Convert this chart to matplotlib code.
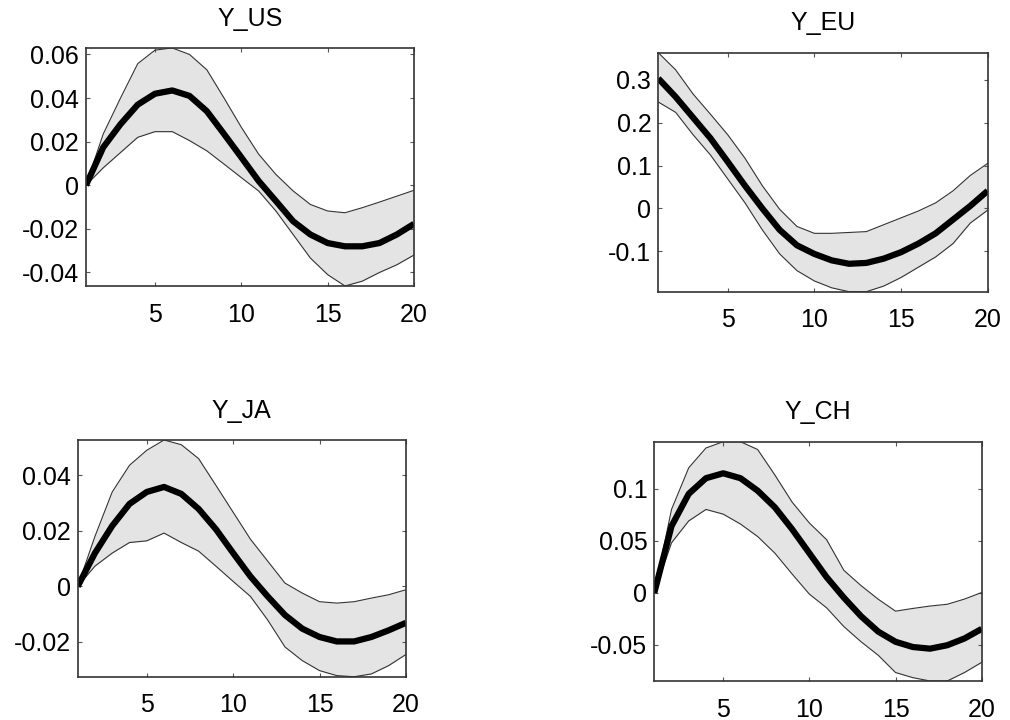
import matplotlib
matplotlib.use("Agg")
import matplotlib.pyplot as plt

plt.rcParams['font.family'] = ['Liberation Sans', 'DejaVu Sans']

periods = list(range(1, 21))

titles = ["Y_US", "Y_EU", "Y_JA", "Y_CH"]

# median responses and band edges
us_mid = [0.0, 0.0174, 0.028, 0.037, 0.042, 0.0435, 0.041, 0.034, 0.0235, 0.0128,
          0.002, -0.0072, -0.0165, -0.0226, -0.0265, -0.028, -0.028, -0.0265, -0.0226, -0.0177]
us_hi = [0.0, 0.0235, 0.040, 0.0558, 0.062, 0.063, 0.060, 0.053, 0.040, 0.0266,
         0.0143, 0.005, -0.0026, -0.0088, -0.0118, -0.0126, -0.0103, -0.0077, -0.005, -0.0023]
us_lo = [0.0, 0.008, 0.015, 0.022, 0.0246, 0.0246, 0.0205, 0.0158, 0.0097, 0.0035,
         -0.0026, -0.0118, -0.0226, -0.0334, -0.041, -0.0462, -0.044, -0.040, -0.0365, -0.032]

eu_mid = [0.303, 0.26, 0.212, 0.164, 0.109, 0.053, 0.0, -0.05, -0.086, -0.106,
          -0.121, -0.129, -0.127, -0.117, -0.102, -0.082, -0.058, -0.026, 0.006, 0.041]
eu_hi = [0.363, 0.323, 0.267, 0.22, 0.172, 0.117, 0.053, -0.002, -0.042, -0.058,
         -0.058, -0.056, -0.054, -0.038, -0.022, -0.006, 0.013, 0.041, 0.077, 0.105]
eu_lo = [0.248, 0.224, 0.172, 0.125, 0.069, 0.013, -0.05, -0.106, -0.145, -0.169,
         -0.185, -0.194, -0.194, -0.181, -0.161, -0.137, -0.113, -0.082, -0.034, -0.004]

ja_mid = [0.0, 0.012, 0.0218, 0.0297, 0.034, 0.0358, 0.0333, 0.0279, 0.0206, 0.012,
          0.0036, -0.0036, -0.0103, -0.0152, -0.0182, -0.0198, -0.0198, -0.0182, -0.0158, -0.0131]
ja_hi = [0.0, 0.018, 0.034, 0.0436, 0.049, 0.0527, 0.051, 0.046, 0.0364, 0.0267,
         0.017, 0.0091, 0.0012, -0.0024, -0.0055, -0.006, -0.0055, -0.0042, -0.003, -0.0012]
ja_lo = [0.0, 0.0073, 0.012, 0.0158, 0.0164, 0.0192, 0.0158, 0.0127, 0.0073, 0.0018,
         -0.0036, -0.0121, -0.0218, -0.0267, -0.0303, -0.0321, -0.0325, -0.0315, -0.0285, -0.0245]

ch_mid = [0.0, 0.064, 0.095, 0.110, 0.1147, 0.110, 0.098, 0.082, 0.061, 0.038,
          0.015, -0.0046, -0.0225, -0.0373, -0.047, -0.052, -0.0536, -0.0503, -0.0438, -0.0346]
ch_hi = [0.0, 0.080, 0.12, 0.139, 0.145, 0.145, 0.1375, 0.113, 0.087, 0.067,
         0.051, 0.0216, 0.0069, -0.0062, -0.0176, -0.015, -0.0127, -0.011, -0.006, 0.0003]
ch_lo = [0.0, 0.048, 0.069, 0.080, 0.0755, 0.066, 0.054, 0.038, 0.018, -0.0013,
         -0.0144, -0.0324, -0.047, -0.060, -0.0765, -0.0814, -0.0846, -0.0846, -0.0765, -0.0667]

yticks = [[-0.04, -0.02, 0, 0.02, 0.04, 0.06],
          [-0.1, 0, 0.1, 0.2, 0.3],
          [-0.02, 0, 0.02, 0.04],
          [-0.05, 0, 0.05, 0.1]]
yticklabels = [["-0.04", "-0.02", "0", "0.02", "0.04", "0.06"],
               ["-0.1", "0", "0.1", "0.2", "0.3"],
               ["-0.02", "0", "0.02", "0.04"],
               ["-0.05", "0", "0.05", "0.1"]]

series = [(us_lo, us_mid, us_hi), (eu_lo, eu_mid, eu_hi),
          (ja_lo, ja_mid, ja_hi), (ch_lo, ch_mid, ch_hi)]

boxes = [[0.0851, 0.6028, 0.3248, 0.3306],
         [0.6518, 0.5949, 0.3261, 0.3319],
         [0.0769, 0.0601, 0.3250, 0.3288],
         [0.6478, 0.0542, 0.3242, 0.3323]]

fig = plt.figure(figsize=(10.1, 7.2), dpi=100)

for i in range(4):
    lo, mid, hi = series[i]
    ax = fig.add_axes(boxes[i])
    ax.fill_between(periods, lo, hi, color="#e4e4e4", lw=0)
    ax.plot(periods, hi, color="#333333", lw=0.8)
    ax.plot(periods, lo, color="#333333", lw=0.8)
    ax.plot(periods, mid, color="black", lw=4.5, solid_joinstyle="round",
            solid_capstyle="butt")
    ax.set_xlim(1, 20)
    ax.set_ylim(min(lo), max(hi))
    ax.set_xticks([5, 10, 15, 20])
    ax.set_yticks(yticks[i])
    ax.set_yticklabels(yticklabels[i])
    ax.tick_params(direction="in", length=3, width=0.8, labelsize=18,
                   top=True, right=True, color="#555555")
    ax.tick_params(axis="x", pad=12)
    ax.tick_params(axis="y", pad=5)
    for s in ax.spines.values():
        s.set_linewidth(1.2)
        s.set_color("#333333")
    ax.set_title(titles[i], fontsize=18, pad=16)

fig.savefig("out.png", dpi=100)
